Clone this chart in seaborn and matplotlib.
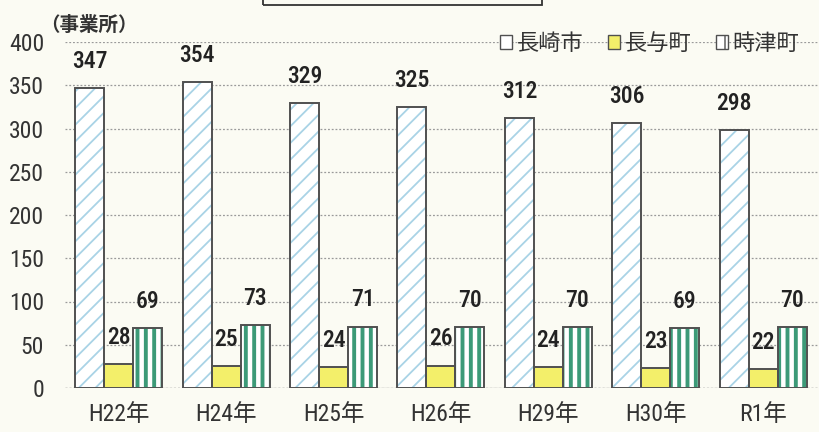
import matplotlib
matplotlib.use("Agg")
import matplotlib.pyplot as plt
from matplotlib.patches import Patch, Rectangle
import seaborn as sns
import pandas as pd

years = ["H22年", "H24年", "H25年", "H26年", "H29年", "H30年", "R1年"]
towns = ["長崎市", "長与町", "時津町"]
nagasaki = [347, 354, 329, 325, 312, 306, 298]
nagayo = [28, 25, 24, 26, 24, 23, 22]
togitsu = [69, 73, 71, 70, 70, 69, 70]

BG = "#fbfbf3"
EDGE = "#505050"
TXT = "#333333"
fills = {"長崎市": "#ffffff", "長与町": "#f3ef6a", "時津町": "#ffffff"}
hatch_col = {"長崎市": "#a9d3e6", "長与町": "#f3ef6a", "時津町": "#3c9a78"}
hatches = {"長崎市": "//", "長与町": "", "時津町": "||"}
hatch_lw = {"長崎市": 1.3, "長与町": 1.0, "時津町": 2.8}

df = pd.DataFrame({
    "year": years * 3,
    "town": sum([[t] * len(years) for t in towns], []),
    "count": nagasaki + nagayo + togitsu,
})

sns.set_style("white")
NUM_FONT = ["Roboto Condensed", "DejaVu Sans Condensed", "Liberation Sans Narrow",
            "Roboto", "Noto Sans CJK JP", "DejaVu Sans"]
plt.rcParams["font.family"] = NUM_FONT

fig = plt.figure(figsize=(8.19, 4.32), dpi=100, facecolor=BG)
ax = fig.add_axes([65 / 819, 1 - 388 / 432, 1 - 65 / 819, 346 / 432])
ax.set_facecolor(BG)

W = 0.81
# fill + hatch layer
sns.barplot(data=df, x="year", y="count", hue="town", order=years, hue_order=towns,
            palette=fills, width=W, ax=ax, legend=False, linewidth=0, errorbar=None)
for town, cont in zip(towns, ax.containers):
    for p in cont:
        p.set_facecolor(fills[town])
        p.set_edgecolor(hatch_col[town])
        p.set_linewidth(0)
        p.set_hatch(hatches[town])
        if hasattr(p, "set_hatch_linewidth"):
            p.set_hatch_linewidth(hatch_lw[town])
n_fill = len(ax.containers)

# outline layer
sns.barplot(data=df, x="year", y="count", hue="town", order=years, hue_order=towns,
            palette=[EDGE] * 3, width=W, ax=ax, legend=False, fill=False,
            linewidth=1.4, errorbar=None)
for cont in ax.containers[n_fill:]:
    for p in cont:
        p.set_edgecolor(EDGE)
        p.set_facecolor("none")

# value labels
for town, cont in zip(towns, ax.containers[:n_fill]):
    ax.bar_label(cont, labels=[str(int(v)) for v in cont.datavalues], padding=11,
                 fontsize=17, fontweight="medium", color="#222222")

ax.set_ylim(0, 400)
ax.set_xlim(-0.5, 6.52)
ax.set_yticks(range(0, 401, 50))
ax.grid(axis="y", color="#9a9a9a", linestyle=(0, (1.5, 1.5)), linewidth=0.9)
ax.set_axisbelow(True)
for s in ax.spines.values():
    s.set_visible(False)
ax.axhline(0, color="#9a9a9a", linewidth=1.0, linestyle=(0, (1.5, 1.5)), zorder=0)
ax.tick_params(axis="y", labelsize=17, labelcolor=TXT, length=0, pad=15)
ax.tick_params(axis="x", labelsize=17, labelcolor=TXT, length=0, pad=11)
ax.set_xlabel("")
ax.set_ylabel("")

fig.text(40 / 819, 1 - 25 / 432, "（事業所）", fontsize=14, color=TXT,
         va="center", ha="left", family=["Noto Sans CJK JP"], fontweight="bold")

handles = []
for town in towns:
    h = Patch(facecolor=fills[town], edgecolor=EDGE, linewidth=1.0,
              hatch="|" if town == "時津町" else "", label=town)
    handles.append(h)
leg = fig.legend(handles=handles, loc="upper right", bbox_to_anchor=(1.0, 1 - 12 / 432),
                 ncol=3, frameon=False, handlelength=0.55, handleheight=0.55,
                 handletextpad=0.2, columnspacing=1.1,
                 prop={"family": ["Noto Sans CJK JP"], "size": 16})
for t in leg.get_texts():
    t.set_color(TXT)

# cut-off title box at the top
fig.patches.append(Rectangle((263 / 819, 1 - 5 / 432), (542 - 263) / 819, 20 / 432,
                             transform=fig.transFigure, fill=False, edgecolor="#333333",
                             linewidth=1.3, clip_on=False))

fig.savefig("out.png", dpi=100, facecolor=BG)
